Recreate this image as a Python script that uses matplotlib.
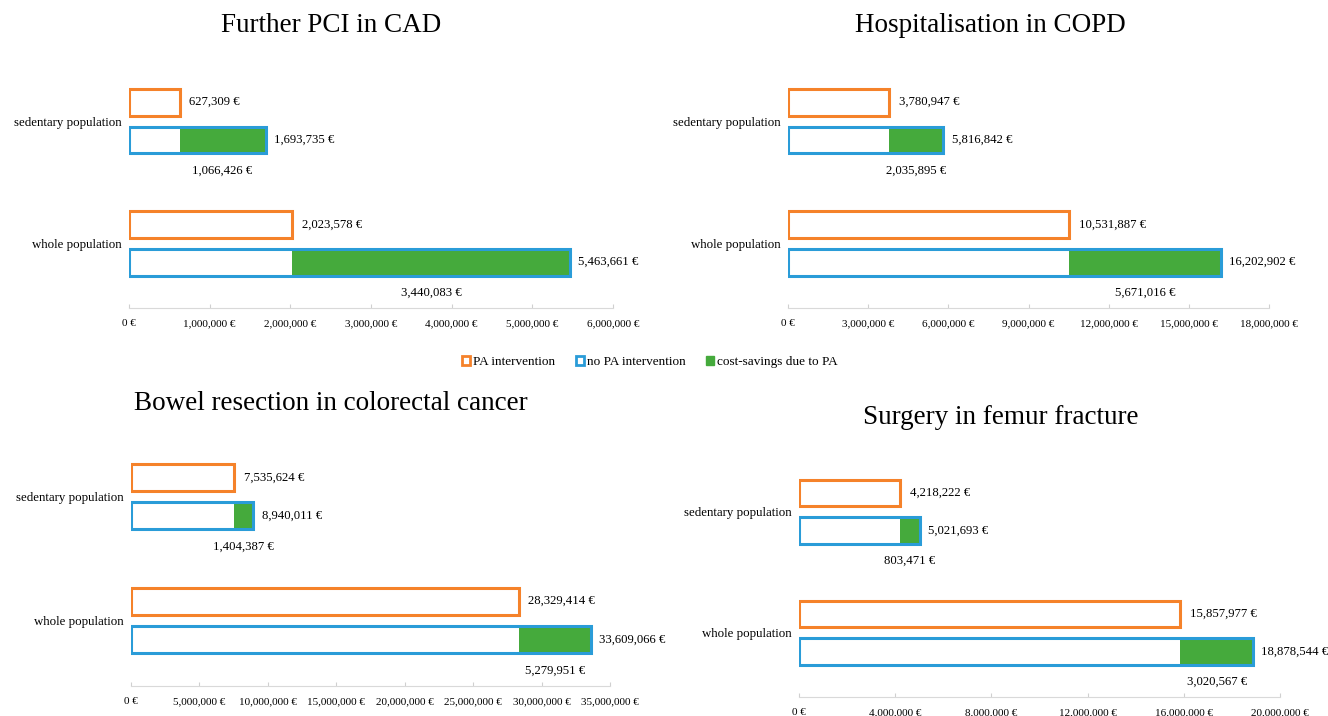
import matplotlib
matplotlib.use("Agg")
import matplotlib.pyplot as plt
from matplotlib.patches import Patch
import numpy as np

plt.rcParams['font.family'] = ['Liberation Serif', 'DejaVu Serif']

# data
titles = ["Further PCI in CAD", "Hospitalisation in COPD",
          "Bowel resection in colorectal cancer", "Surgery in femur fracture"]
groups = ["sedentary population", "whole population"]
pa_costs = [[627309, 2023578], [3780947, 10531887],
            [7535624, 28329414], [4218222, 15857977]]
no_pa_costs = [[1693735, 5463661], [5816842, 16202902],
               [8940011, 33609066], [5021693, 18878544]]
savings = [[1066426, 3440083], [2035895, 5671016],
           [1404387, 5279951], [803471, 3020567]]
x_max = [6000000, 18000000, 35000000, 20000000]
x_step = [1000000, 3000000, 5000000, 4000000]

orange = '#F5822A'
blue = '#2A9CD8'
green = '#45AA3C'

W, H = 1328, 716
fig = plt.figure(figsize=(W / 100, H / 100), dpi=100)

# panel layout in pixels: x of 0, x of max, y top, y axis line
layout = [(129, 613, 75, 308), (788, 1269, 75, 308),
          (131, 610, 450, 686), (799, 1280, 466, 697)]
title_pos = [(331, 25), (990, 25), (331, 404), (1001, 418)]

off = 0.155
bh = 0.22
ytop, ybot = -0.377, 1.53

for i in range(4):
    x0, x1, yt, yb = layout[i]
    ax = fig.add_axes([x0 / W, 1 - yb / H, (x1 - x0) / W, (yb - yt) / H])
    y = np.arange(len(groups))
    pa = np.array(pa_costs[i])
    nopa = np.array(no_pa_costs[i])
    sav = np.array(savings[i])

    ax.barh(y - off, pa, height=bh, facecolor='white', edgecolor=orange,
            linewidth=2.2, zorder=3)
    ax.barh(y + off, sav, left=nopa - sav, height=bh, color=green,
            linewidth=0, zorder=2)
    ax.barh(y + off, nopa, height=bh, facecolor='none', edgecolor=blue,
            linewidth=2.2, zorder=3)

    for j in range(len(groups)):
        ax.annotate(f"{pa[j]:,} €", (pa[j], y[j] - off), xytext=(7, 0),
                    textcoords='offset points', va='center', ha='left',
                    fontsize=9.2)
        ax.annotate(f"{nopa[j]:,} €", (nopa[j], y[j] + off), xytext=(6, 0),
                    textcoords='offset points', va='center', ha='left',
                    fontsize=9.2)
        ax.text(nopa[j] - sav[j] / 2, y[j] + off + 0.25, f"{sav[j]:,} €",
                va='center', ha='center', fontsize=9.2)

    ax.set_xlim(0, x_max[i])
    ax.set_ylim(ybot, ytop)
    ticks = np.arange(0, x_max[i] + 1, x_step[i])
    ax.set_xticks(ticks)
    ax.set_xticklabels([])
    # tick labels drawn by hand on a common baseline
    for t in ticks:
        ax.annotate(f"{int(t):,}\u00a0€", (t, 0),
                    xycoords=('data', 'axes fraction'),
                    xytext=(0, -13), textcoords='offset points',
                    ha='center', va='baseline', fontsize=8)
    ax.set_yticks(y)
    ax.set_yticklabels(groups, fontsize=9.3)
    ax.tick_params(axis='y', length=0, pad=5)
    ax.tick_params(axis='x', direction='in', length=3, color='#D0D0D0')
    for s in ['top', 'right', 'left']:
        ax.spines[s].set_visible(False)
    ax.spines['bottom'].set_color('#D9D9D9')
    ax.spines['bottom'].set_linewidth(0.8)
    ax.patch.set_visible(False)

    tx, ty = title_pos[i]
    fig.text(tx / W, 1 - ty / H, titles[i], ha='center', va='center',
             fontsize=19.5)

handles = [Patch(facecolor='white', edgecolor=orange, linewidth=2),
           Patch(facecolor='white', edgecolor=blue, linewidth=2),
           Patch(facecolor=green, edgecolor=green)]
fig.legend(handles, ["PA intervention", "no PA intervention",
                     "cost-savings due to PA"],
           loc='center', bbox_to_anchor=(650 / W, 1 - 362 / H), ncol=3,
           frameon=False, fontsize=9.5, handlelength=0.6, handleheight=0.6,
           handletextpad=0.2, columnspacing=1.6)

fig.savefig("out.png", dpi=100)
